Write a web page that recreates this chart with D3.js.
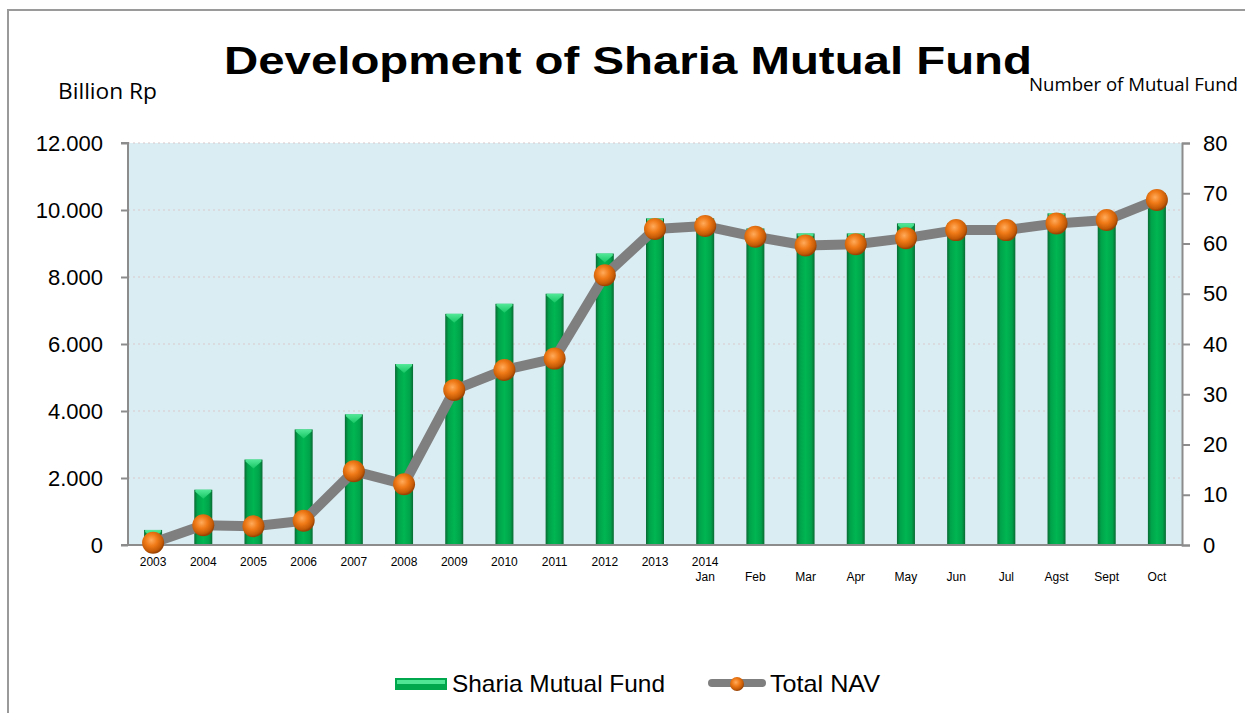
<!DOCTYPE html>
<html><head><meta charset="utf-8">
<script src="https://cdn.jsdelivr.net/npm/d3@7"></script>
<style>body{margin:0;background:#fff}svg{display:block}</style>
</head><body>
<script>
const categories = ["2003","2004","2005","2006","2007","2008","2009","2010","2011","2012","2013","Jan","Feb","Mar","Apr","May","Jun","Jul","Agst","Sept","Oct"];
const topLabels = ["2003","2004","2005","2006","2007","2008","2009","2010","2011","2012","2013","2014","","","","","","","","",""];
const subLabels = ["","","","","","","","","","","","Jan","Feb","Mar","Apr","May","Jun","Jul","Agst","Sept","Oct"];
const fundCount = [3,11,17,23,26,36,46,48,50,58,65,65,63,62,62,64,64,64,66,66,70];
const totalNAV = [66,592,559,724,2204,1815,4630,5226,5564,8050,9432,9520,9200,8940,8975,9160,9400,9400,9600,9700,10300];
const leftTicks = [0,2000,4000,6000,8000,10000,12000];
const rightTicks = [0,10,20,30,40,50,60,70,80];

const W=1245,H=713;
const svg=d3.select("body").append("svg").attr("width",W).attr("height",H);
const defs=svg.append("defs");
const bg=defs.append("linearGradient").attr("id","barG").attr("x1","0").attr("x2","1").attr("y1","0").attr("y2","0");
[["0%","#0a6a33"],["18%","#00a34a"],["50%","#00b652"],["82%","#00a34a"],["100%","#0a6a33"]].forEach(s=>bg.append("stop").attr("offset",s[0]).attr("stop-color",s[1]));
const cg=defs.append("linearGradient").attr("id","capG").attr("x1","0").attr("x2","0").attr("y1","0").attr("y2","1");
[["0%","#5cf0a0"],["100%","#19c866"]].forEach(s=>cg.append("stop").attr("offset",s[0]).attr("stop-color",s[1]));
const mg=defs.append("radialGradient").attr("id","mkG").attr("cx","0.42").attr("cy","0.38").attr("r","0.6");
[["0%","#ffab5c"],["45%","#f07a17"],["85%","#c45a06"],["100%","#9a4304"]].forEach(s=>mg.append("stop").attr("offset",s[0]).attr("stop-color",s[1]));

// outer border
svg.append("rect").attr("x",8).attr("y",10).attr("width",W).attr("height",H).attr("fill","none").attr("stroke","#9a9a9a").attr("stroke-width",2);

const m={l:128,r:1182,t:143,b:545};
const x=d3.scaleBand().domain(categories).range([m.l,m.r]).paddingInner(0).paddingOuter(0);
const yL=d3.scaleLinear().domain([0,12000]).range([m.b,m.t]);
const yR=d3.scaleLinear().domain([0,80]).range([m.b,m.t]);

svg.append("rect").attr("x",m.l).attr("y",m.t).attr("width",m.r-m.l).attr("height",m.b-m.t).attr("fill","#daedf3");

// gridlines
svg.append("g").selectAll("line").data(leftTicks.filter(d=>d>0)).join("line")
 .attr("x1",m.l).attr("x2",m.r).attr("y1",d=>yL(d)).attr("y2",d=>yL(d))
 .attr("stroke","#d9c9c9").attr("stroke-width",1).attr("stroke-dasharray","2,3");

// bars
const bw=18;
const bars=svg.append("g");
bars.selectAll("rect").data(fundCount).join("rect")
 .attr("x",(d,i)=>x(categories[i])+x.bandwidth()/2-bw/2).attr("width",bw)
 .attr("y",d=>yR(d)).attr("height",d=>m.b-yR(d)).attr("fill","url(#barG)");
bars.selectAll("path.cap").data(fundCount).join("path").attr("class","cap")
 .attr("d",(d,i)=>{const cx=x(categories[i])+x.bandwidth()/2,y0=yR(d);const h=4;
   return `M${cx-bw/2+1},${y0}L${cx+bw/2-1},${y0}L${cx+bw/2-1},${y0+2}L${cx},${y0+h+5}L${cx-bw/2+1},${y0+2}Z`;})
 .attr("fill","url(#capG)").attr("opacity",0.9);

// axes
const axL=svg.append("g").attr("transform",`translate(${m.l},0)`).call(d3.axisLeft(yL).tickValues(leftTicks).tickSize(7).tickPadding(18).tickFormat(d=>d3.format(",")(d).replace(/,/g,".")));
const axR=svg.append("g").attr("transform",`translate(${m.r},0)`).call(d3.axisRight(yR).tickValues(rightTicks).tickSize(8).tickPadding(13));
[axL,axR].forEach(a=>{a.select(".domain").attr("stroke","#8c8c8c").attr("stroke-width",2);
 a.selectAll(".tick line").attr("stroke","#8c8c8c").attr("stroke-width",2);
 a.selectAll("text").attr("font-family","Liberation Sans, Arial, sans-serif").attr("font-size",22).attr("fill","#000");});
axL.select(".domain").attr("d",`M-7,${m.t}H0V${m.b}H-7`);
svg.append("line").attr("x1",m.l).attr("x2",m.r).attr("y1",m.b).attr("y2",m.b).attr("stroke","#8c8c8c").attr("stroke-width",2);

// x labels
const xl=svg.append("g").attr("font-family","Liberation Sans, Arial, sans-serif").attr("font-size",12).attr("text-anchor","middle").attr("fill","#000");
xl.selectAll("text.t").data(topLabels).join("text").attr("class","t").attr("x",(d,i)=>x(categories[i])+x.bandwidth()/2).attr("y",566).text(d=>d);
xl.selectAll("text.s").data(subLabels).join("text").attr("class","s").attr("x",(d,i)=>x(categories[i])+x.bandwidth()/2).attr("y",581).text(d=>d);

// line
const line=d3.line().x((d,i)=>x(categories[i])+x.bandwidth()/2).y(d=>yL(d));
svg.append("path").datum(totalNAV).attr("d",line).attr("fill","none").attr("stroke","#7f7f7f").attr("stroke-width",10).attr("stroke-linejoin","round");
svg.append("g").selectAll("circle").data(totalNAV).join("circle")
 .attr("cx",(d,i)=>x(categories[i])+x.bandwidth()/2).attr("cy",d=>yL(d)).attr("r",11).attr("fill","url(#mkG)");

// titles
svg.append("text").attr("x",628).attr("y",74).attr("text-anchor","middle").attr("font-family","Liberation Sans, Arial, sans-serif").attr("font-weight","bold").attr("font-size",39)
 .attr("textLength",808).attr("lengthAdjust","spacingAndGlyphs").text("Development of Sharia Mutual Fund");
svg.append("text").attr("x",58).attr("y",99).attr("font-family","Open Sans, sans-serif").attr("font-size",22).attr("textLength",99).attr("lengthAdjust","spacingAndGlyphs").text("Billion Rp");
svg.append("text").attr("x",1029).attr("y",91).attr("font-family","Open Sans, sans-serif").attr("font-size",18).attr("textLength",209).attr("lengthAdjust","spacingAndGlyphs").text("Number of Mutual Fund");

// legend
const lg=svg.append("g").attr("font-family","Liberation Sans, Arial, sans-serif").attr("font-size",24);
lg.append("rect").attr("x",395).attr("y",678).attr("width",52).attr("height",12).attr("fill","#00a84d");
lg.append("rect").attr("x",397).attr("y",680).attr("width",48).attr("height",4).attr("fill","#4fe796");
lg.append("text").attr("x",452).attr("y",692).attr("textLength",213).attr("lengthAdjust","spacingAndGlyphs").text("Sharia Mutual Fund");
lg.append("line").attr("x1",712).attr("x2",762).attr("y1",683).attr("y2",683).attr("stroke","#7f7f7f").attr("stroke-width",8).attr("stroke-linecap","round");
lg.append("circle").attr("cx",737).attr("cy",684).attr("r",7).attr("fill","url(#mkG)");
lg.append("text").attr("x",770).attr("y",692).attr("textLength",110).attr("lengthAdjust","spacingAndGlyphs").text("Total NAV");
</script>
</body></html>
